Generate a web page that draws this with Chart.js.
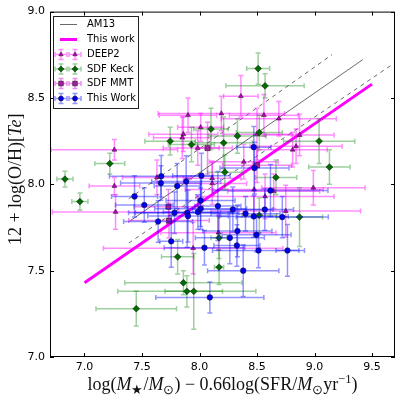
<!DOCTYPE html>
<html lang="en">
<head>
<meta charset="UTF-8">
<title>12+log(O/H) vs fundamental mass</title>
<script src="https://cdn.jsdelivr.net/npm/chart.js@4"></script>
<style>
  html, body { margin: 0; padding: 0; background: #fff; }
  canvas { display: block; }
</style>
</head>
<body>
<canvas id="fmr" width="402" height="396"></canvas>
<script>
// axis ticks
const xTicks = [7.0, 7.5, 8.0, 8.5, 9.0, 9.5];
const yTicks = [7.0, 7.5, 8.0, 8.5, 9.0];

// DEEP2 (triangles)
const deep2X    = [7.26, 7.26, 7.27, 7.63, 7.86, 7.85, 7.90, 7.985, 8.01, 8.11, 8.11, 8.19, 8.36, 8.385, 8.475, 8.50, 8.56, 8.57, 8.69, 8.645, 8.75, 8.81, 8.84, 8.87, 8.99, 8.165, 7.945];
const deep2Y    = [8.20, 7.99, 7.84, 8.04, 8.29, 8.27, 8.40, 8.21, 8.33, 8.035, 8.005, 8.41, 8.51, 8.13, 7.97, 8.29, 8.40, 7.93, 8.38, 7.96, 7.845, 8.20, 8.22, 8.285, 7.98, 7.72, 7.63];
const deep2Xerr = [0.55, 0.22, 0.55, 0.30, 0.30, 0.25, 0.25, 0.30, 0.20, 0.25, 0.30, 0.55, 0.15, 0.30, 0.60, 0.30, 0.30, 0.60, 0.50, 0.40, 0.65, 0.30, 0.40, 0.30, 0.45, 0.50, 0.78];
const deep2Yerr = [0.06, 0.05, 0.10, 0.10, 0.10, 0.12, 0.10, 0.10, 0.08, 0.10, 0.12, 0.10, 0.12, 0.10, 0.15, 0.15, 0.12, 0.13, 0.10, 0.10, 0.15, 0.10, 0.10, 0.12, 0.10, 0.10, 0.15];

// SDF Keck (diamonds)
const keckX    = [6.83, 6.96, 7.22, 7.45, 7.745, 7.93, 8.10, 8.21, 8.22, 8.33, 8.51, 8.57, 8.52, 8.665, 8.52, 8.87, 9.04, 9.13, 7.81, 7.86, 7.89, 7.95, 8.17, 8.17];
const keckY    = [8.03, 7.90, 8.12, 7.28, 8.25, 8.23, 8.32, 8.24, 8.07, 8.28, 8.67, 8.57, 8.30, 8.04, 7.82, 7.81, 8.25, 8.10, 7.58, 7.43, 7.38, 7.38, 7.52, 7.69];
const keckXerr = [0.07, 0.07, 0.13, 0.35, 0.22, 0.20, 0.15, 0.25, 0.15, 0.25, 0.10, 0.34, 0.20, 0.18, 0.15, 0.20, 0.31, 0.18, 0.14, 0.51, 0.60, 0.25, 0.04, 0.07];
const keckYerr = [0.045, 0.05, 0.06, 0.10, 0.08, 0.10, 0.12, 0.15, 0.10, 0.10, 0.09, 0.07, 0.10, 0.10, 0.10, 0.17, 0.13, 0.10, 0.10, 0.07, 0.09, 0.22, 0.10, 0.12];

// SDF MMT (squares)
const mmtX    = [8.07, 7.73, 7.735, 8.50];
const mmtY    = [8.21, 7.87, 7.79, 8.11];
const mmtXerr = [0.10, 0.30, 0.35, 0.30];
const mmtYerr = [0.15, 0.10, 0.10, 0.10];

// This Work (circles)
const workX    = [7.435, 7.52, 7.64, 7.667, 7.664, 7.754, 7.783, 7.806, 7.884, 7.893, 7.90, 7.986, 8.009, 8.017, 8.01, 8.043, 8.16, 8.09, 8.264, 8.29, 8.33, 8.325, 8.38, 8.40, 8.472, 8.478, 8.472, 8.496, 8.513, 8.568, 8.617, 8.72, 8.765];
const workY    = [7.93, 7.88, 7.785, 8.047, 8.007, 7.67, 7.835, 7.99, 8.016, 7.835, 7.816, 7.84, 7.906, 8.05, 7.858, 7.633, 7.874, 7.345, 7.69, 7.854, 7.73, 7.646, 7.50, 7.83, 8.215, 8.094, 7.814, 7.708, 7.617, 7.854, 7.964, 7.81, 7.617];
const workXerr = [0.20, 0.25, 0.30, 0.45, 0.35, 0.10, 0.40, 0.20, 0.30, 0.45, 0.35, 0.30, 0.30, 0.25, 0.40, 0.35, 0.20, 0.47, 0.30, 0.35, 0.30, 0.20, 0.31, 0.30, 0.15, 0.30, 0.30, 0.30, 0.40, 0.25, 0.50, 0.40, 0.10];
const workYerr = [0.12, 0.10, 0.12, 0.12, 0.10, 0.15, 0.12, 0.13, 0.15, 0.20, 0.15, 0.10, 0.15, 0.13, 0.12, 0.10, 0.20, 0.09, 0.15, 0.13, 0.15, 0.12, 0.15, 0.10, 0.12, 0.15, 0.12, 0.10, 0.10, 0.12, 0.15, 0.12, 0.15];

// relations
const am13X = [7.40, 9.42];
const am13Y = [7.79, 8.722];
const am13UpX = [7.385, 9.153];
const am13UpY = [7.916, 8.751];
const am13LoX = [7.385, 9.675];
const am13LoY = [7.66, 8.693];
const fitX = [7.0, 9.5];
const fitY = [7.43, 8.58];

const pts = (xs, ys) => xs.map((v, i) => ({ x: v, y: ys[i] }));

function errCross(ctx, px, py, x0, x1, y0, y1) {
  const cap = 2.5;
  ctx.beginPath();
  ctx.moveTo(x0, py); ctx.lineTo(x1, py);
  ctx.moveTo(x0, py - cap); ctx.lineTo(x0, py + cap);
  ctx.moveTo(x1, py - cap); ctx.lineTo(x1, py + cap);
  ctx.moveTo(px, y0); ctx.lineTo(px, y1);
  ctx.moveTo(px - cap, y0); ctx.lineTo(px + cap, y0);
  ctx.moveTo(px - cap, y1); ctx.lineTo(px + cap, y1);
  ctx.stroke();
}

const errorBars = {
  id: 'errorBars',
  beforeDatasetDraw(chart, args) {
    const ds = chart.data.datasets[args.index];
    if (!ds.errX) return;
    const { ctx, chartArea: a, scales: { x, y } } = chart;
    ctx.save();
    ctx.beginPath();
    ctx.rect(a.left, a.top, a.width, a.height);
    ctx.clip();
    ctx.strokeStyle = ds.errColor;
    ctx.lineWidth = 1.5;
    ds.data.forEach((p, i) => {
      errCross(ctx,
        x.getPixelForValue(p.x), y.getPixelForValue(p.y),
        x.getPixelForValue(p.x - ds.errX[i]), x.getPixelForValue(p.x + ds.errX[i]),
        y.getPixelForValue(p.y - ds.errY[i]), y.getPixelForValue(p.y + ds.errY[i]));
    });
    ctx.restore();
  }
};

const frame = {
  id: 'frame',
  afterDatasetsDraw(chart) {
    const { ctx, chartArea: a, scales: { x, y } } = chart;
    ctx.save();
    ctx.strokeStyle = '#000';
    ctx.lineWidth = 1;
    ctx.strokeRect(a.left + 0.5, a.top + 0.5, a.width - 1, a.height - 1);
    ctx.beginPath();
    xTicks.forEach(v => {
      const px = Math.round(x.getPixelForValue(v)) + 0.5;
      ctx.moveTo(px, a.bottom); ctx.lineTo(px, a.bottom - 4);
      ctx.moveTo(px, a.top); ctx.lineTo(px, a.top + 4);
    });
    yTicks.forEach(v => {
      const py = Math.round(y.getPixelForValue(v)) + 0.5;
      ctx.moveTo(a.left, py); ctx.lineTo(a.left + 4, py);
      ctx.moveTo(a.right, py); ctx.lineTo(a.right - 4, py);
    });
    ctx.stroke();
    ctx.restore();
  }
};

// draw a label made of roman / italic / sub / sup pieces
function richText(ctx, parts, size) {
  const fam = '"Liberation Serif", serif';
  const fontOf = p => (p[1] === 'i' ? 'italic ' : '') + ((p[1] === 'sub' || p[1] === 'sup') ? size * 0.7 : size) + 'px ' + fam;
  let w = 0;
  parts.forEach(p => { ctx.font = fontOf(p); w += ctx.measureText(p[0]).width; });
  let cx = -w / 2;
  parts.forEach(p => {
    ctx.font = fontOf(p);
    const dy = p[1] === 'sub' ? size * 0.2 : p[1] === 'sup' ? -size * 0.4 : 0;
    ctx.fillText(p[0], cx, dy);
    cx += ctx.measureText(p[0]).width;
  });
}

const xLabel = [['log(', 'r'], ['M', 'i'], ['\u2605', 'sub'], ['/', 'r'], ['M', 'i'], ['\u2299', 'sub'], [') \u2212 0.66log(SFR/', 'r'], ['M', 'i'], ['\u2299', 'sub'], ['yr', 'r'], ['\u22121', 'sup'], [')', 'r']];
const yLabel = [['12 + log(O/H)[', 'r'], ['Te', 'i'], [']', 'r']];

const axisLabels = {
  id: 'axisLabels',
  afterDraw(chart) {
    const { ctx, chartArea: a } = chart;
    ctx.save();
    ctx.fillStyle = '#111';
    ctx.textBaseline = 'alphabetic';
    ctx.translate((a.left + a.right) / 2, 390);
    richText(ctx, xLabel, 18);
    ctx.restore();
    ctx.save();
    ctx.fillStyle = '#111';
    ctx.translate(21, (a.top + a.bottom) / 2 - 5);
    ctx.rotate(-Math.PI / 2);
    richText(ctx, yLabel, 18);
    ctx.restore();
  }
};

const legendBox = {
  id: 'legendBox',
  afterDraw(chart) {
    const { ctx } = chart;
    const datasets = chart.data.datasets;
    ctx.save();
    ctx.fillStyle = '#fff';
    ctx.strokeStyle = '#222';
    ctx.lineWidth = 1;
    ctx.fillRect(53.5, 16.5, 85, 92);
    ctx.strokeRect(53.5, 16.5, 85, 92);
    const rows = [24.5, 39.5, 54.5, 69, 83.5, 98.5];
    const entries = ['am13', 'fit', 'deep2', 'keck', 'mmt', 'work'];
    entries.forEach((key, r) => {
      const ds = datasets.find(d => d.key === key);
      const yy = rows[r];
      if (ds.showLine) {
        ctx.strokeStyle = ds.borderColor;
        ctx.lineWidth = ds.borderWidth;
        ctx.beginPath();
        ctx.moveTo(60, yy); ctx.lineTo(77, yy);
        ctx.stroke();
      } else {
        [61, 75].forEach(mx => {
          ctx.strokeStyle = ds.errColor;
          ctx.lineWidth = 1.5;
          errCross(ctx, mx, yy, mx - 6, mx + 6, yy - 5, yy + 5);
          ctx.fillStyle = ds.backgroundColor;
          ctx.strokeStyle = ds.borderColor;
          ctx.lineWidth = ds.borderWidth;
          Chart.helpers.drawPoint(ctx, { pointStyle: ds.pointStyle, radius: ds.pointRadius * 0.9, borderWidth: ds.borderWidth, rotation: 0 }, mx, yy);
        });
      }
      ctx.fillStyle = '#000';
      ctx.font = '10px "DejaVu Sans"';
      ctx.textBaseline = 'middle';
      ctx.textAlign = 'left';
      ctx.fillText(ds.label, 87, yy);
    });
    ctx.restore();
  }
};

const pointSet = (key, label, xs, ys, xe, ye, style, radius, fill, errColor, order) => ({
  key, label, data: pts(xs, ys), errX: xe, errY: ye, errColor,
  pointStyle: style, pointRadius: radius, pointHoverRadius: radius,
  backgroundColor: fill, borderColor: '#111', borderWidth: 0.5, showLine: false, order
});

new Chart(document.getElementById('fmr'), {
  type: 'scatter',
  data: {
    datasets: [
      { key: 'am13', label: 'AM13', data: pts(am13X, am13Y), showLine: true, pointRadius: 0, borderColor: '#444', borderWidth: 0.8, order: 10 },
      { key: 'am13up', label: '', data: pts(am13UpX, am13UpY), showLine: true, pointRadius: 0, borderColor: '#444', borderWidth: 0.8, borderDash: [4, 4], order: 10 },
      { key: 'am13lo', label: '', data: pts(am13LoX, am13LoY), showLine: true, pointRadius: 0, borderColor: '#444', borderWidth: 0.8, borderDash: [4, 4], order: 10 },
      { key: 'fit', label: 'This work', data: pts(fitX, fitY), showLine: true, pointRadius: 0, borderColor: '#ff00ff', borderWidth: 3, order: 9 },
      pointSet('deep2', 'DEEP2', deep2X, deep2Y, deep2Xerr, deep2Yerr, 'triangle', 2.8, '#bf00bf', 'rgba(255,0,255,0.45)', 4),
      pointSet('keck', 'SDF Keck', keckX, keckY, keckXerr, keckYerr, 'rectRot', 3.4, '#006c00', 'rgba(0,128,0,0.38)', 3),
      pointSet('mmt', 'SDF MMT', mmtX, mmtY, mmtXerr, mmtYerr, 'rect', 3.7, '#a0209f', 'rgba(220,0,220,0.45)', 2),
      pointSet('work', 'This Work', workX, workY, workXerr, workYerr, 'circle', 2.8, '#0000f0', 'rgba(0,0,255,0.42)', 1)
    ]
  },
  options: {
    responsive: false,
    animation: false,
    devicePixelRatio: 1,
    layout: { padding: { top: 11, right: 7, left: 0, bottom: 0 } },
    plugins: { legend: { display: false }, tooltip: { enabled: false } },
    scales: {
      x: {
        type: 'linear', min: 6.7, max: 9.7,
        afterBuildTicks: s => { s.ticks = xTicks.map(v => ({ value: v })); },
        afterFit: s => { s.height = 39; },
        ticks: { callback: v => v.toFixed(1), color: '#000', font: { family: 'DejaVu Sans', size: 11 }, padding: 4, maxRotation: 0, autoSkip: false },
        grid: { display: false, drawTicks: false },
        border: { display: false }
      },
      y: {
        type: 'linear', min: 7.0, max: 9.0,
        afterBuildTicks: s => { s.ticks = yTicks.map(v => ({ value: v })); },
        afterFit: s => { s.width = 50; },
        ticks: { callback: v => v.toFixed(1), color: '#000', font: { family: 'DejaVu Sans', size: 11 }, padding: 5, autoSkip: false },
        grid: { display: false, drawTicks: false },
        border: { display: false }
      }
    }
  },
  plugins: [errorBars, frame, axisLabels, legendBox]
});
</script>
</body>
</html>
